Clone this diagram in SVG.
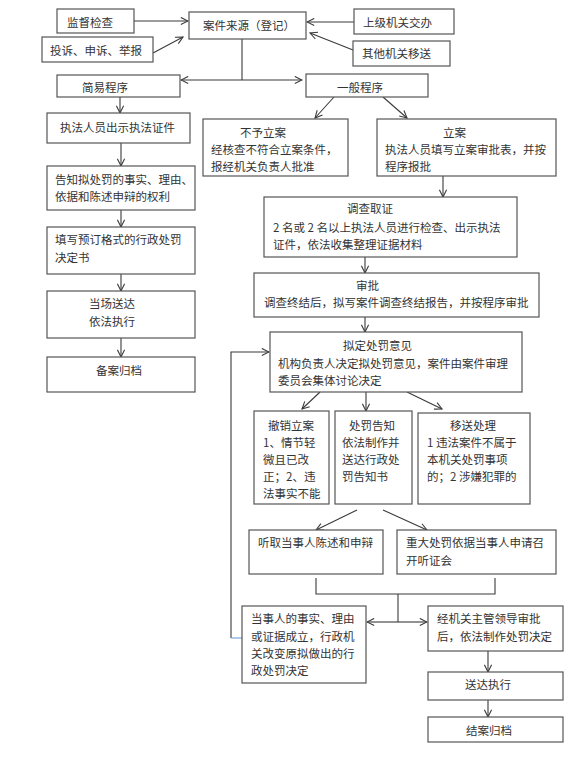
<svg xmlns="http://www.w3.org/2000/svg" width="585" height="758" viewBox="0 0 585 758">
<style>
.b{fill:#fff;stroke:#555;stroke-width:1.2}
.t{font-family:"Noto Sans CJK SC","Noto Sans",sans-serif;font-size:11.5px;fill:#333;dominant-baseline:central}
.c{stroke:#3a3a3a;stroke-width:1.1;fill:none}
</style>
<defs>
<marker id="a" viewBox="0 0 10 10" refX="9" refY="5" markerWidth="9" markerHeight="9" markerUnits="userSpaceOnUse" orient="auto">
<path d="M1,1 L9,5 L1,9" fill="none" stroke="#3a3a3a" stroke-width="1.2"/>
</marker>
</defs>
<rect width="585" height="758" fill="#fff"/>
<g id="connectors">
<line class="c" x1="134" y1="21" x2="188" y2="21" marker-end="url(#a)"/>
<line class="c" x1="153" y1="53" x2="183" y2="37" marker-end="url(#a)"/>
<line class="c" x1="354" y1="22" x2="307" y2="22" marker-end="url(#a)"/>
<line class="c" x1="353" y1="50" x2="310" y2="33" marker-end="url(#a)"/>
<line class="c" x1="242" y1="39" x2="242" y2="80"/>
<line class="c" x1="242" y1="80" x2="181" y2="80" marker-end="url(#a)"/>
<line class="c" x1="242" y1="80" x2="302" y2="80" marker-end="url(#a)"/>
<line class="c" x1="120" y1="97" x2="120" y2="113" marker-end="url(#a)"/>
<line class="c" x1="121" y1="143" x2="121" y2="166" marker-end="url(#a)"/>
<line class="c" x1="121" y1="210" x2="121" y2="227" marker-end="url(#a)"/>
<line class="c" x1="121" y1="274" x2="121" y2="291" marker-end="url(#a)"/>
<line class="c" x1="121" y1="338" x2="121" y2="357" marker-end="url(#a)"/>
<line class="c" x1="334" y1="97" x2="315" y2="118" marker-end="url(#a)"/>
<line class="c" x1="383" y1="97" x2="407" y2="118" marker-end="url(#a)"/>
<line class="c" x1="443" y1="176" x2="443" y2="197" marker-end="url(#a)"/>
<line class="c" x1="365" y1="257" x2="365" y2="273" marker-end="url(#a)"/>
<line class="c" x1="365" y1="317" x2="365" y2="332" marker-end="url(#a)"/>
<line class="c" x1="320" y1="392" x2="302" y2="409" marker-end="url(#a)"/>
<line class="c" x1="366" y1="392" x2="366" y2="411" marker-end="url(#a)"/>
<line class="c" x1="407" y1="392" x2="442" y2="409" marker-end="url(#a)"/>
<line class="c" x1="357" y1="510" x2="316" y2="530" marker-end="url(#a)"/>
<line class="c" x1="383" y1="510" x2="427" y2="530" marker-end="url(#a)"/>
<polyline class="c" points="316,578 316,594 495,594 495,578"/>
<line class="c" x1="398" y1="594" x2="398" y2="622"/>
<line class="c" x1="398" y1="622" x2="367" y2="622" marker-end="url(#a)"/>
<line class="c" x1="398" y1="622" x2="427" y2="622" marker-end="url(#a)"/>
<line class="c" x1="488" y1="651" x2="488" y2="672" marker-end="url(#a)"/>
<line class="c" x1="488" y1="700" x2="488" y2="717" marker-end="url(#a)"/>
<polyline class="c" points="231,638 231,352 269,352" marker-end="url(#a)"/>
<line x1="231" y1="638" x2="242" y2="638" stroke="#6fa0d8" stroke-width="1.1"/>
</g>
<g id="n1"><rect class="b" x="57" y="9" width="77" height="24"/><text class="t" x="67" y="22">监督检查</text></g>
<g id="n2"><rect class="b" x="42" y="37" width="111" height="25"/><text class="t" x="50" y="50">投诉、申诉、举报</text></g>
<g id="n3"><rect class="b" x="189" y="12" width="117" height="27"/><text class="t" x="203" y="25">案件来源（登记）</text></g>
<g id="n4"><rect class="b" x="354" y="9" width="100" height="25"/><text class="t" x="363" y="22">上级机关交办</text></g>
<g id="n5"><rect class="b" x="353" y="41" width="97" height="25"/><text class="t" x="362" y="53">其他机关移送</text></g>
<g id="n6"><rect class="b" x="57" y="75" width="123" height="22"/><text class="t" x="82" y="87">简易程序</text></g>
<g id="n7"><rect class="b" x="306" y="74" width="122" height="23"/><text class="t" x="337" y="87">一般程序</text></g>
<g id="n8"><rect class="b" x="47" y="113" width="143" height="30"/><text class="t" x="60" y="127">执法人员出示执法证件</text></g>
<g id="n9"><rect class="b" x="47" y="166" width="148" height="44"/><text class="t" x="55" y="179">告知拟处罚的事实、理由、</text><text class="t" x="55" y="196">依据和陈述申辩的权利</text></g>
<g id="n10"><rect class="b" x="47" y="227" width="148" height="47"/><text class="t" x="55" y="239">填写预订格式的行政处罚</text><text class="t" x="55" y="257">决定书</text></g>
<g id="n11"><rect class="b" x="47" y="291" width="148" height="47"/><text class="t" x="89" y="303">当场送达</text><text class="t" x="89" y="321">依法执行</text></g>
<g id="n12"><rect class="b" x="47" y="357" width="148" height="35"/><text class="t" x="96" y="370">备案归档</text></g>
<g id="n13"><rect class="b" x="203" y="119" width="145" height="57"/><text class="t" x="240" y="132">不予立案</text><text class="t" x="211" y="149">经核查不符合立案条件，</text><text class="t" x="211" y="166">报经机关负责人批准</text></g>
<g id="n14"><rect class="b" x="377" y="119" width="179" height="57"/><text class="t" x="443" y="132">立案</text><text class="t" x="385" y="149">执法人员填写立案审批表，并按</text><text class="t" x="385" y="166">程序报批</text></g>
<g id="n15"><rect class="b" x="264" y="197" width="253" height="60"/><text class="t" x="347" y="208">调查取证</text><text class="t" x="273" y="227">2 名或 2 名以上执法人员进行检查、出示执法</text><text class="t" x="273" y="244">证件，依法收集整理证据材料</text></g>
<g id="n16"><rect class="b" x="254" y="273" width="285" height="44"/><text class="t" x="356" y="285">审批</text><text class="t" x="264" y="302">调查终结后，拟写案件调查终结报告，并按程序审批</text></g>
<g id="n17"><rect class="b" x="270" y="332" width="252" height="60"/><text class="t" x="343" y="345">拟定处罚意见</text><text class="t" x="278" y="363">机构负责人决定拟处罚意见，案件由案件审理</text><text class="t" x="278" y="380">委员会集体讨论决定</text></g>
<g id="n18"><rect class="b" x="254" y="411" width="75" height="93"/><text class="t" x="268" y="425">撤销立案</text><text class="t" x="263" y="442">1、情节轻</text><text class="t" x="263" y="459">微且已改</text><text class="t" x="263" y="476">正；2、违</text><text class="t" x="263" y="493">法事实不能</text></g>
<g id="n19"><rect class="b" x="335" y="411" width="77" height="93"/><text class="t" x="349" y="425">处罚告知</text><text class="t" x="342" y="442">依法制作并</text><text class="t" x="342" y="459">送达行政处</text><text class="t" x="342" y="476">罚告知书</text></g>
<g id="n20"><rect class="b" x="418" y="413" width="112" height="91"/><text class="t" x="450" y="425">移送处理</text><text class="t" x="427" y="442">1 违法案件不属于</text><text class="t" x="427" y="459">本机关处罚事项</text><text class="t" x="427" y="476">的；2 涉嫌犯罪的</text></g>
<g id="n21"><rect class="b" x="249" y="530" width="134" height="44"/><text class="t" x="258" y="542">听取当事人陈述和申辩</text></g>
<g id="n22"><rect class="b" x="397" y="530" width="159" height="44"/><text class="t" x="406" y="542">重大处罚依据当事人申请召</text><text class="t" x="406" y="560">开听证会</text></g>
<g id="n23"><rect class="b" x="242" y="606" width="124" height="77"/><text class="t" x="251" y="618">当事人的事实、理由</text><text class="t" x="251" y="636">或证据成立，行政机</text><text class="t" x="251" y="653">关改变原拟做出的行</text><text class="t" x="251" y="670">政处罚决定</text></g>
<g id="n24"><rect class="b" x="428" y="606" width="135" height="45"/><text class="t" x="437" y="618">经机关主管领导审批</text><text class="t" x="437" y="636">后，依法制作处罚决定</text></g>
<g id="n25"><rect class="b" x="428" y="672" width="135" height="28"/><text class="t" x="465" y="684">送达执行</text></g>
<g id="n26"><rect class="b" x="428" y="717" width="135" height="25"/><text class="t" x="466" y="730">结案归档</text></g>
</svg>
